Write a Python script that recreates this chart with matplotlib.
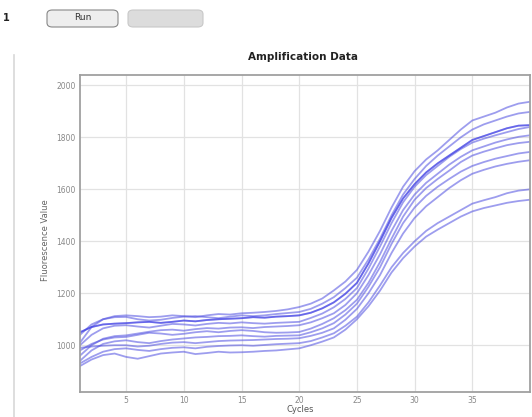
import matplotlib
matplotlib.use("Agg")
import matplotlib.pyplot as plt
from matplotlib.patches import FancyBboxPatch
from matplotlib.lines import Line2D

# cycles 1..40
cycles = list(range(1, 41))

# fluorescence readings per well
well_1 = [1010, 1070, 1100, 1112, 1115, 1112, 1108, 1110, 1115, 1112, 1108, 1115, 1120, 1118, 1123, 1125, 1128, 1132, 1138, 1147,
          1160, 1180, 1211, 1245, 1290, 1360, 1440, 1530, 1610, 1670, 1715, 1750, 1790, 1830, 1865, 1880, 1895, 1915, 1930, 1937]
well_2 = [1040, 1080, 1100, 1108, 1109, 1100, 1095, 1098, 1105, 1110, 1112, 1108, 1104, 1110, 1115, 1112, 1115, 1120, 1124, 1128,
          1140, 1160, 1185, 1220, 1260, 1330, 1410, 1500, 1580, 1640, 1690, 1730, 1765, 1800, 1830, 1850, 1865, 1880, 1892, 1898]
well_3 = [1050, 1070, 1080, 1083, 1085, 1088, 1090, 1086, 1090, 1095, 1092, 1097, 1100, 1102, 1104, 1108, 1106, 1110, 1112, 1115,
          1125, 1142, 1165, 1198, 1240, 1315, 1400, 1490, 1565, 1620, 1665, 1700, 1730, 1760, 1790, 1805, 1820, 1835, 1845, 1847]
well_4 = [1000, 1040, 1065, 1075, 1077, 1072, 1068, 1075, 1082, 1080, 1076, 1082, 1086, 1084, 1088, 1085, 1083, 1086, 1088, 1090,
          1105, 1122, 1146, 1178, 1220, 1295, 1380, 1470, 1550, 1610, 1655, 1690, 1725, 1755, 1780, 1795, 1808, 1820, 1832, 1840]
well_5 = [960, 1000, 1025, 1035, 1038, 1045, 1052, 1058, 1060, 1056, 1062, 1066, 1064, 1068, 1069, 1066, 1070, 1072, 1074, 1077,
          1088, 1104, 1123, 1155, 1200, 1270, 1350, 1440, 1520, 1580, 1625, 1660, 1695, 1725, 1750, 1765, 1780, 1792, 1802, 1808]
well_6 = [980, 1005, 1022, 1030, 1032, 1040, 1048, 1045, 1040, 1044, 1050, 1054, 1050, 1055, 1058, 1055, 1050, 1048, 1049, 1051,
          1064, 1082, 1104, 1135, 1175, 1240, 1320, 1410, 1495, 1560, 1605, 1640, 1672, 1705, 1730, 1745, 1758, 1770, 1778, 1783]
well_7 = [940, 980, 1005, 1015, 1019, 1012, 1008, 1016, 1022, 1026, 1030, 1032, 1035, 1036, 1038, 1035, 1033, 1036, 1037, 1038,
          1050, 1065, 1085, 1118, 1160, 1225, 1300, 1390, 1470, 1530, 1575, 1610, 1640, 1668, 1690, 1705, 1718, 1728, 1738, 1744]
well_8 = [990, 995, 998, 1000, 1000, 995, 998, 1005, 1010, 1012, 1008, 1012, 1016, 1018, 1019, 1020, 1022, 1024, 1025, 1027,
          1036, 1048, 1065, 1098, 1140, 1200, 1270, 1355, 1430, 1490, 1535, 1570, 1605, 1635, 1660, 1675, 1688, 1698, 1706, 1712]
well_9 = [930, 955, 975, 985, 988, 982, 978, 985, 990, 992, 988, 994, 997, 999, 1000, 998, 1001, 1004, 1006, 1008,
          1016, 1030, 1046, 1075, 1110, 1165, 1230, 1300, 1355, 1400, 1440, 1470, 1495, 1520, 1545, 1558, 1570, 1585, 1595, 1600]
well_10 = [920, 945, 962, 968, 955, 948, 958, 968, 972, 975, 966, 970, 975, 972, 973, 975, 978, 980, 984, 988,
           1000, 1014, 1030, 1060, 1100, 1150, 1210, 1280, 1335, 1380, 1418, 1445, 1470, 1495, 1515, 1528, 1538, 1548, 1555, 1560]

wells = [well_1, well_2, well_3, well_4, well_5, well_6, well_7, well_8, well_9, well_10]
x_ticks = [5, 10, 15, 20, 25, 30, 35]
y_ticks = [1000, 1200, 1400, 1600, 1800, 2000]

W, H = 532, 417
fig = plt.figure(figsize=(W / 100, H / 100), dpi=100)

# plot panel
ax = fig.add_axes([80 / W, 1 - 392 / H, 450 / W, 317 / H])
for w in wells:
    ax.plot(cycles, w, color=(0.3, 0.3, 0.88), alpha=0.55, lw=1.3)
# the darker one
ax.plot(cycles, well_3, color=(0.2, 0.2, 0.9), alpha=0.5, lw=1.3)

ax.set_xlim(1, 40)
ax.set_ylim(820, 2040)
ax.set_xticks(x_ticks)
ax.set_yticks(y_ticks)
ax.grid(True, color="#e2e2e2", lw=0.9)
ax.tick_params(length=0, labelsize=5.5, labelcolor="#888888", pad=3)
for s in ax.spines.values():
    s.set_color("#a0a0a0")
    s.set_linewidth(1.3)

fig.text(303 / W, 1 - 57 / H, "Amplification Data", ha="center", va="center",
         fontsize=7.5, fontweight="bold", color="#222222")
fig.text(300 / W, 1 - 409 / H, "Cycles", ha="center", va="center", fontsize=6, color="#555555")
fig.text(45 / W, 1 - 240 / H, "Fluorescence Value", ha="center", va="center",
         rotation=90, fontsize=6, color="#666666")

# toolbar bits of the screenshot
fig.add_artist(FancyBboxPatch((47 / W, 1 - 27 / H), 71 / W, 17 / H,
                              boxstyle="round,pad=0,rounding_size=0.01",
                              transform=fig.transFigure, fc="#eeeeee", ec="#888888", lw=0.8))
fig.add_artist(FancyBboxPatch((128 / W, 1 - 27 / H), 75 / W, 17 / H,
                              boxstyle="round,pad=0,rounding_size=0.01",
                              transform=fig.transFigure, fc="#dcdcdc", ec="#c8c8c8", lw=0.8))
fig.text(83 / W, 1 - 18 / H, "Run", ha="center", va="center", fontsize=6.5, color="#333333")
fig.text(6 / W, 1 - 18 / H, "1", ha="center", va="center", fontsize=7, fontweight="bold", color="#222222")
fig.add_artist(Line2D([14 / W, 14 / W], [0, 1 - 55 / H], transform=fig.transFigure,
                      color="#d8d8d8", lw=1.2))

fig.savefig("out.png", dpi=100)
